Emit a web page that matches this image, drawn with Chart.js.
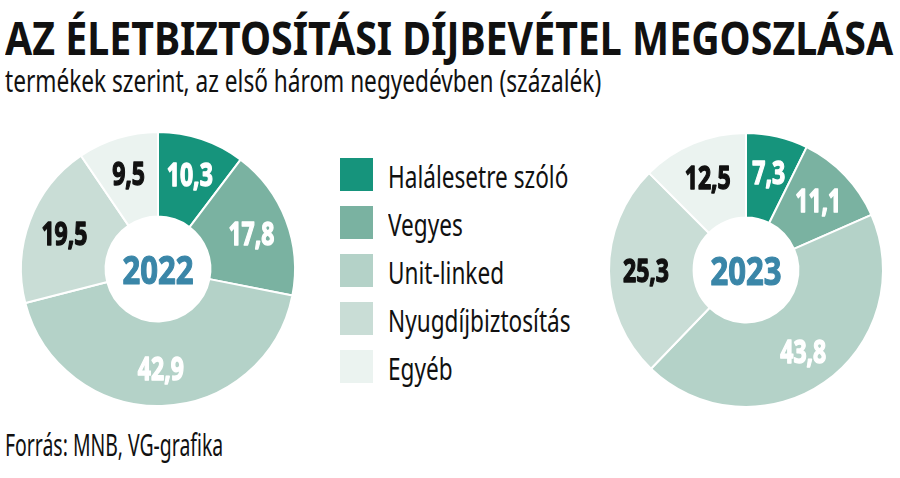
<!DOCTYPE html>
<html><head><meta charset="utf-8">
<script src="https://cdn.jsdelivr.net/npm/chart.js@4"></script>
<style>
html,body{margin:0;padding:0;background:#fff;width:900px;height:478px;overflow:hidden;}
body{position:relative;font-family:"Noto Sans",sans-serif;color:#111;}
.t{position:absolute;white-space:nowrap;line-height:1;transform-origin:left top;}
#title{left:5px;top:14px;font-weight:bold;font-size:46px;color:#111;}
#subtitle{left:5px;top:66px;font-size:30px;}
#source{left:5px;top:429px;font-size:31px;}
#legend{position:absolute;left:340px;top:158px;}
.row{position:absolute;left:0;height:33px;}
.sw{position:absolute;left:0;top:0;width:33px;height:33px;}
.lt{position:absolute;left:48px;top:3px;font-size:31px;line-height:1;white-space:nowrap;transform-origin:left top;}
canvas{position:absolute;}
</style></head>
<body>
<div id="title" class="t">AZ ÉLETBIZTOSÍTÁSI DÍJBEVÉTEL MEGOSZLÁSA</div>
<div id="subtitle" class="t">termékek szerint, az első három negyedévben (százalék)</div>
<div id="legend"></div>
<div id="source" class="t">Forrás: MNB, VG-grafika</div>
<canvas id="c1" width="300" height="300" style="left:8px;top:119px;width:300px;height:300px"></canvas>
<canvas id="c2" width="300" height="300" style="left:596px;top:120px;width:300px;height:300px"></canvas>
<script>
const categories = ["Halálesetre szóló","Vegyes","Unit-linked","Nyugdíjbiztosítás","Egyéb"];
const values2022 = [10.3, 17.8, 42.9, 19.5, 9.5];
const values2023 = [7.3, 11.1, 43.8, 25.3, 12.5];
const years = ["2022","2023"];
const colors = ["#16947c","#7ab2a1","#b4d2c8","#c9ddd6","#ebf3f0"];
const labelColors = ["#ffffff","#ffffff","#ffffff","#111111","#111111"];

const FONT = "'Noto Sans',sans-serif";

const lg = document.getElementById('legend');
categories.forEach((c,i)=>{
  const r = document.createElement('div');
  r.className='row'; r.style.top=(i*48)+'px';
  r.innerHTML='<div class="sw" style="background:'+colors[i]+'"></div><div class="lt">'+c+'</div>';
  lg.appendChild(r);
});

function fit(el, w){const s=w/el.scrollWidth;el.style.transform='scaleX('+s+')';return s;}
fit(document.getElementById('title'), 888);
fit(document.getElementById('subtitle'), 596);
fit(document.getElementById('source'), 218);
const lts=[...document.querySelectorAll('.lt')];
const ls=180/lts[0].scrollWidth;
lts.forEach(e=>e.style.transform='scaleX('+ls+')');

const labelPlugin = {
  id:'labels',
  afterDatasetsDraw(chart){
    const ctx=chart.ctx;
    const meta=chart.getDatasetMeta(0);
    const ds=chart.data.datasets[0];
    ctx.save();
    ctx.textAlign='center'; ctx.textBaseline='alphabetic';
    ctx.font="bold 32px "+FONT;
    const sx=46/ctx.measureText("10,3").width;
    const cap=32*0.714;
    ctx.lineJoin='round';
    meta.data.forEach((arc,i)=>{
      const p=arc.getProps(['x','y','startAngle','endAngle','innerRadius','outerRadius']);
      const a=(p.startAngle+p.endAngle)/2;
      const r=100;
      const x=p.x+Math.cos(a)*r, y=p.y+Math.sin(a)*r;
      const txt=String(ds.data[i]).replace('.',',');
      ctx.fillStyle=labelColors[i]; ctx.strokeStyle=labelColors[i]; ctx.lineWidth=1.4;
      ctx.save();ctx.translate(x,y+cap/2);ctx.scale(sx,1);
      ctx.fillText(txt,0,0); ctx.strokeText(txt,0,0);
      ctx.restore();
    });
    const p0=meta.data[0];
    const ct=chart.options.plugins.centerText;
    ctx.fillStyle='#3a86a8'; ctx.strokeStyle='#3a86a8'; ctx.lineWidth=1.2;
    ctx.font="bold 40px "+FONT;
    const sc=71/ctx.measureText(ct).width;
    ctx.save();ctx.translate(p0.x,p0.y+1+40*0.714/2);ctx.scale(sc,1);
    ctx.fillText(ct,0,0); ctx.strokeText(ct,0,0);
    ctx.restore();
    ctx.restore();
  }
};

function make(id, data, year){
  new Chart(document.getElementById(id),{
    type:'doughnut',
    data:{labels:categories,datasets:[{data:data,backgroundColor:colors,borderColor:'#ffffff',borderWidth:2,radius:137,cutout:57}]},
    options:{responsive:false,animation:false,events:[],
      plugins:{legend:{display:false},tooltip:{enabled:false},centerText:year}},
    plugins:[labelPlugin]
  });
}
make('c1', values2022, years[0]);
make('c2', values2023, years[1]);
</script>
</body></html>
